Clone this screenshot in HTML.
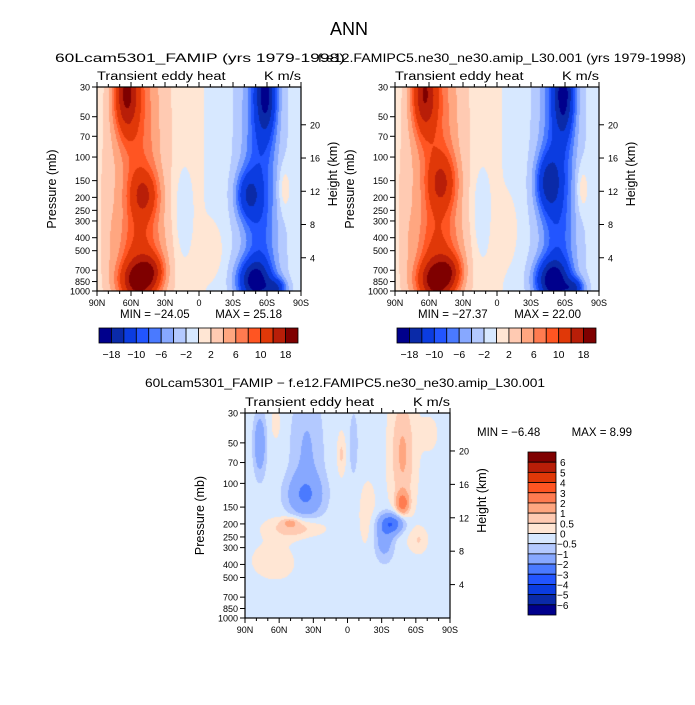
<!DOCTYPE html>
<html><head><meta charset="utf-8"><style>
html,body{margin:0;padding:0;background:#fff;width:695px;height:705px;overflow:hidden}
canvas{position:absolute}
svg{position:absolute;left:0;top:0}
text{font-family:"Liberation Sans",sans-serif;fill:#000}
</style></head><body>
<canvas id="c1" width="204" height="204" style="left:97px;top:87px"></canvas>
<canvas id="c2" width="204" height="204" style="left:395px;top:87px"></canvas>
<canvas id="c3" width="205" height="205" style="left:245px;top:413px"></canvas>
<svg id="s" width="695" height="705">
<text x="349" y="35" font-size="18" text-anchor="middle">ANN</text>
<text x="55" y="62" font-size="12" textLength="290" lengthAdjust="spacingAndGlyphs">60Lcam5301_FAMIP (yrs 1979-1998)</text>
<text x="318" y="62" font-size="12" textLength="368" lengthAdjust="spacingAndGlyphs">f.e12.FAMIPC5.ne30_ne30.amip_L30.001 (yrs 1979-1998)</text>
<text x="145" y="387" font-size="12" textLength="400" lengthAdjust="spacingAndGlyphs">60Lcam5301_FAMIP − f.e12.FAMIPC5.ne30_ne30.amip_L30.001</text>
<g id="g"></g>
</svg>
<script>
const topLevels=[-18,-14,-10,-8,-6,-4,-2,0,2,4,6,8,10,14,18];
const topLabels=["−18","−10","−6","−2","2","6","10","18"];
const diffLevels=[-6,-5,-4,-3,-2,-1,-0.5,0,0.5,1,2,3,4,5,6];
const diffLabels=["6","5","4","3","2","1","0.5","0","−0.5","−1","−2","−3","−4","−5","−6"];
const colors=["#00008c","#0a2aa8","#0b3ce0","#2255ff","#4a7aff","#87a8ff","#b3c9ff","#d7e8ff","#ffe6d4","#ffcab2","#ffa680","#ff7b50","#ff5522","#e03808","#b81e08","#7f0000"];
const pLabels=[30,50,70,100,150,200,250,300,400,500,700,850,1000];
const zLabels=[4,8,12,16,20];
const latLabels=["90N","60N","30N","0","30S","60S","90S"];
const f1U=[0.22,0.20,0.14,0.23,0.20,0.27,0.42,0.80,0.80,0.83,0.74,0.77,0.88,0.57,0.92,0.05,0.22];
const f1V=[0.50,0.50,0.03,0.53,0.95,0.90,0.62,0.50,0.50,0.03,0.53,0.95,0.99,0.80,0.50,0.6,0.8];
const f1A=[3,5,14,8,14,6,-3,-3,-6,-13,-9,-14,-10,2,3.5,1.5,3];
const f1SU=[0.2,0.1,0.06,0.07,0.09,0.06,0.04,0.18,0.08,0.05,0.06,0.08,0.05,0.05,0.03,0.04,0.12];
const f1SV=[2,1.2,0.2,0.12,0.1,0.08,0.22,2,1.2,0.2,0.12,0.1,0.05,0.12,0.12,0.4,0.15];
const f2U=[0.22,0.20,0.14,0.23,0.20,0.27,0.42,0.80,0.80,0.83,0.75,0.77,0.88,0.55,0.92,0.05,0.22];
const f2V=[0.50,0.50,0.03,0.47,0.95,0.90,0.62,0.50,0.50,0.03,0.47,0.95,0.99,0.70,0.50,0.6,0.8];
const f2A=[3,5,13,8,14,6,-3,-3,-6.5,-13,-10,-15,-10,2,3.5,1.5,3];
const f2SU=[0.2,0.1,0.06,0.07,0.09,0.06,0.04,0.18,0.08,0.05,0.06,0.08,0.05,0.05,0.03,0.04,0.12];
const f2SV=[2,1.2,0.2,0.14,0.1,0.08,0.22,2,1.2,0.2,0.14,0.1,0.05,0.14,0.12,0.4,0.15];
const f3U=[0.5,0.07,0.30,0.29,0.25,0.22,0.77,0.77,0.72,0.68,0.47,0.53,0.15,0.85,0.6,0.9,0.15];
const f3V=[0.5,0.15,0.2,0.40,0.56,0.53,0.2,0.44,0.54,0.62,0.2,0.15,0.72,0.62,0.5,0.1,0.05];
const f3A=[-0.2,-1.6,-0.9,-1.4,1.3,0.8,1.3,2.5,-2.6,-1.3,0.8,-0.8,0.35,0.7,0.4,0.35,0.35];
const f3SU=[2,0.03,0.08,0.09,0.12,0.04,0.06,0.03,0.06,0.05,0.02,0.02,0.15,0.04,0.05,0.05,0.03];
const f3SV=[2,0.15,0.35,0.1,0.05,0.02,0.3,0.05,0.05,0.1,0.1,0.15,0.12,0.06,0.2,0.1,0.1];

function field(U,V,A,SU,SV,u,v){let s=0;for(let i=0;i<U.length;i++){const a=(u-U[i])/SU[i],b=(v-V[i])/SV[i];s+=A[i]*Math.exp(-a*a-b*b);}return s;}
function level(val,lv){let k=0;while(k<lv.length&&val>=lv[k])k++;return k;}
function draw(id,U,V,A,SU,SV,lv){const c=document.getElementById(id),x=c.getContext('2d'),w=c.width,h=c.height;
 for(let j=0;j<h;j++)for(let i=0;i<w;i++){const val=field(U,V,A,SU,SV,i/(w-1),j/(h-1));x.fillStyle=colors[level(val,lv)];x.fillRect(i,j,1,1);}}
draw('c1',f1U,f1V,f1A,f1SU,f1SV,topLevels);
draw('c2',f2U,f2V,f2A,f2SU,f2SV,topLevels);
draw('c3',f3U,f3V,f3A,f3SU,f3SV,diffLevels);

const NS='http://www.w3.org/2000/svg',G=document.getElementById('g');
function el(t,a,txt){const e=document.createElementNS(NS,t);for(const k in a)e.setAttribute(k,a[k]);if(txt!==undefined)e.textContent=txt;G.appendChild(e);return e;}
function vOf(p){return Math.log(p/30)/Math.log(1000/30);}
function vOfZ(z){return vOf(1000*Math.exp(-z/7));}
function axes(x0,y0,w,h){
 let r=el('rect',{x:x0,y:y0,width:w,height:h,fill:'none',stroke:'#000','stroke-width':1.2});
 
 
 let t=el('text',{x:x0,y:y0-7,'font-size':11.5,textLength:w*0.63,lengthAdjust:'spacingAndGlyphs'},'Transient eddy heat');
 
 
 t=el('text',{x:x0+w,y:y0-7,'font-size':11.5,'text-anchor':'end',textLength:37,lengthAdjust:'spacingAndGlyphs'},'K m/s');
 
 
 for(let i=0;i<=18;i++){const xx=x0+w*i/18,big=i%3==0;
  el('line',{x1:xx,x2:xx,y1:y0+h,y2:y0+h+(big?5:3),stroke:'#000'});
  el('line',{x1:xx,x2:xx,y1:y0,y2:y0-(big?5:3),stroke:'#000'});}
 latLabels.forEach((s,i)=>{const tt=el('text',{x:x0+w*i/6,y:y0+h+15,'font-size':9,'text-anchor':'middle'},s);
  
  });
 pLabels.forEach(p=>{const yy=y0+h*vOf(p);el('line',{x1:x0-5,x2:x0,y1:yy,y2:yy,stroke:'#000'});
  const tt=el('text',{x:x0-7,y:yy+3.5,'font-size':9,'text-anchor':'end'},p);
  
  });
 zLabels.forEach(z=>{const yy=y0+h*vOfZ(z);el('line',{x1:x0+w,x2:x0+w+5,y1:yy,y2:yy,stroke:'#000'});
  const tt=el('text',{x:x0+w+9,y:yy+3.5,'font-size':9},z);
  
  });
 t=el('text',{transform:`translate(${x0-41},${y0+h/2}) rotate(-90)`,'font-size':12.5,'text-anchor':'middle',fill:'#000'},'Pressure (mb)');
 
 
 t=el('text',{transform:`translate(${x0+w+36},${y0+h/2-15}) rotate(-90)`,'font-size':12.5,'text-anchor':'middle',fill:'#555'},'Height (km)');
 
 
}
axes(97,87,204,204);axes(395,87,204,204);axes(245,413,205,205);
function minmax(x,y,a,b,len){
 let t=el('text',{x:x,y:y,'font-size':11.5},'MIN = '+a);
 
 
 t=el('text',{x:x+len,y:y,'font-size':11.5,'text-anchor':'end'},'MAX =  '+b);
 
 }
minmax(120,318,'−24.05','25.18',162);
minmax(418,318,'−27.37','22.00',163);
minmax(477,436,' −6.48','8.99',155);
function hbar(x0,y0,w,h){const bw=w/colors.length;
 colors.forEach((c,i)=>{const r=el('rect',{x:x0+i*bw,y:y0,width:bw,height:h,fill:c,stroke:'#000','stroke-width':0.8});
  
  });
 topLabels.forEach((s,k)=>{const t=el('text',{x:x0+bw*(2*k+1),y:y0+h+15,'font-size':10.5,'text-anchor':'middle'},s);
  
  });}
hbar(99,328,199,15);hbar(397,328,199,15);
(function(){const x0=528,y0=452,w=28,h=163,bh=h/colors.length;
 colors.slice().reverse().forEach((c,i)=>{const r=el('rect',{x:x0,y:y0+i*bh,width:w,height:bh,fill:c,stroke:'#000','stroke-width':0.8});
  
  });
 diffLabels.forEach((s,k)=>{const t=el('text',{x:x0+w+(s[0]=='−'?1:4),y:y0+bh*(k+1)+4,'font-size':10},s);
  
  });})();
</script>
</body></html>
